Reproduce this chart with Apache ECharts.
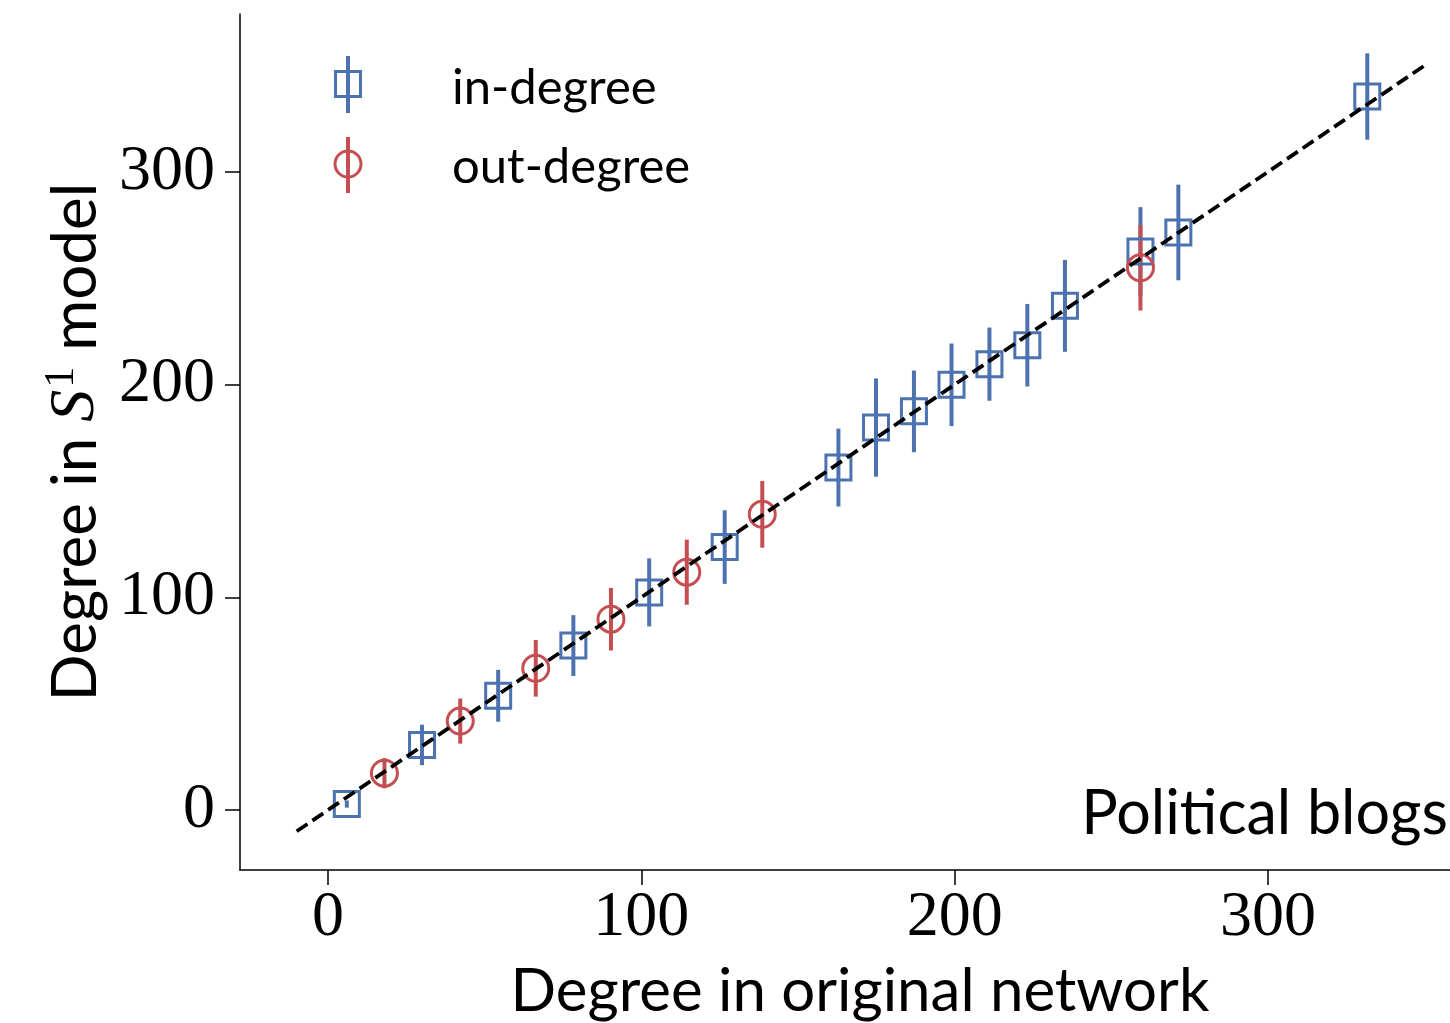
<!DOCTYPE html>
<html><head><meta charset="utf-8">
<script src="https://cdn.jsdelivr.net/npm/echarts@6/dist/echarts.min.js"></script>
<style>html,body{margin:0;padding:0;background:#fff}#c{width:1450px;height:1023px}</style>
</head><body><div id="c"></div><script>
const inX   = [6.0, 30.0, 54.3, 78.3, 102.5, 126.6, 162.9, 174.9, 187.0, 199.0, 211.1, 223.2, 235.2, 259.3, 271.4, 331.7];
const inY   = [2.8, 30.6, 53.7, 77.3, 102.3, 123.6, 161.0, 179.8, 187.4, 199.9, 209.6, 218.5, 237.0, 262.6, 271.5, 335.4];
const inErr = [1.7, 9.5, 12.2, 14.3, 16.0, 17.3, 18.3, 23.1, 19.2, 19.4, 17.2, 19.4, 21.6, 20.8, 22.5, 20.3];
const outX   = [18.0, 42.2, 66.3, 90.3, 114.5, 138.6, 259.3];
const outY   = [17.3, 41.8, 66.6, 89.7, 111.8, 139.0, 254.9];
const outErr = [7.1, 10.6, 13.3, 14.7, 15.3, 15.7, 20.1];
const refLine = [-10, 350];
const tickValues = [0, 100, 200, 300];
const xName = 'Degree in original network';
const yNameParts = ['Degree in ', 'S', '1', ' model'];
const legendNames = ['in-degree', 'out-degree'];
const annotation = 'Political blogs';

const BLUE = '#4C72B0', RED = '#C44E52';
const SANS = 'Lato', SERIF = 'Liberation Serif';

function errSeries(xs, ys, es, color) {
  return {
    type: 'custom', z: 3,
    data: xs.map((x, i) => [x, ys[i], es[i]]),
    renderItem: (params, api) => {
      const x = api.value(0), y = api.value(1), e = api.value(2);
      const p1 = api.coord([x, y - e]), p2 = api.coord([x, y + e]);
      return { type: 'line', shape: { x1: p1[0], y1: p1[1], x2: p2[0], y2: p2[1] },
               style: { stroke: color, lineWidth: 4 } };
    }
  };
}
function markerSeries(xs, ys, symbol, size, color) {
  return {
    type: 'scatter', z: 4, symbol: symbol, symbolSize: size,
    data: xs.map((x, i) => [x, ys[i]]),
    itemStyle: { color: 'rgba(0,0,0,0)', borderColor: color, borderWidth: 3, opacity: 1 },
    emphasis: { disabled: true }
  };
}

const chart = echarts.init(document.getElementById('c'), null, { renderer: 'canvas' });
function axisBase(margin) {
  return {
    type: 'value', splitLine: { show: false },
    axisLine: { show: true, onZero: false, lineStyle: { color: '#000', width: 1.5 } },
    axisTick: { show: true, length: 15, customValues: tickValues, lineStyle: { color: '#000', width: 1.5 } },
    axisLabel: { customValues: tickValues, fontFamily: SERIF, fontSize: 64, color: '#000', margin: margin }
  };
}
chart.setOption({
  animation: false,
  backgroundColor: '#fff',
  grid: { left: 240, right: 0, top: 14, bottom: 153, outerBoundsMode: 'none', containLabel: false },
  xAxis: Object.assign(axisBase(16), {
    min: -28.1, max: 358.1,
    name: xName, nameLocation: 'middle', nameGap: 92,
    nameTextStyle: { fontFamily: SANS, fontSize: 60, color: '#000', padding: [0, 0, 0, 30] }
  }),
  yAxis: Object.assign(axisBase(25), {
    min: -28.2, max: 374.2,
    name: '{a|' + yNameParts[0] + '}{s|' + yNameParts[1] + '}{p|' + yNameParts[2] + '}{a|' + yNameParts[3] + '}',
    nameLocation: 'middle', nameGap: 124, nameRotate: 90,
    nameTextStyle: {
      color: '#000',
      rich: {
        a: { fontFamily: SANS, fontSize: 62, color: '#000' },
        s: { fontFamily: SERIF, fontStyle: 'italic', fontSize: 64, color: '#000' },
        p: { fontFamily: SERIF, fontSize: 42, color: '#000', padding: [0, 0, 28, 2] }
      }
    }
  }),
  series: [
    errSeries(inX, inY, inErr, BLUE),
    markerSeries(inX, inY, 'rect', 25, BLUE),
    errSeries(outX, outY, outErr, RED),
    markerSeries(outX, outY, 'circle', 26, RED),
    { type: 'line', z: 6, symbol: 'none', silent: true,
      data: refLine.map(v => [v, v]),
      lineStyle: { color: '#000', width: 3.8, type: [13, 6] } }
  ],
  graphic: [
    { type: 'line', shape: { x1: 348, y1: 56, x2: 348, y2: 113 }, style: { stroke: BLUE, lineWidth: 4 } },
    { type: 'rect', shape: { x: 335.5, y: 71.5, width: 25, height: 25 }, style: { stroke: BLUE, lineWidth: 3, fill: null } },
    { type: 'text', x: 452, y: 88, style: { text: legendNames[0], font: '49px ' + SANS, fill: '#000', verticalAlign: 'middle' } },
    { type: 'line', shape: { x1: 348, y1: 137, x2: 348, y2: 193 }, style: { stroke: RED, lineWidth: 4 } },
    { type: 'circle', shape: { cx: 348, cy: 164, r: 13 }, style: { stroke: RED, lineWidth: 3, fill: null } },
    { type: 'text', x: 452, y: 167, style: { text: legendNames[1], font: '49px ' + SANS, fill: '#000', verticalAlign: 'middle' } },
    { type: 'text', right: 2, top: 784, style: { text: annotation, font: '61px ' + SANS, fill: '#000' } }
  ]
});
</script></body></html>
